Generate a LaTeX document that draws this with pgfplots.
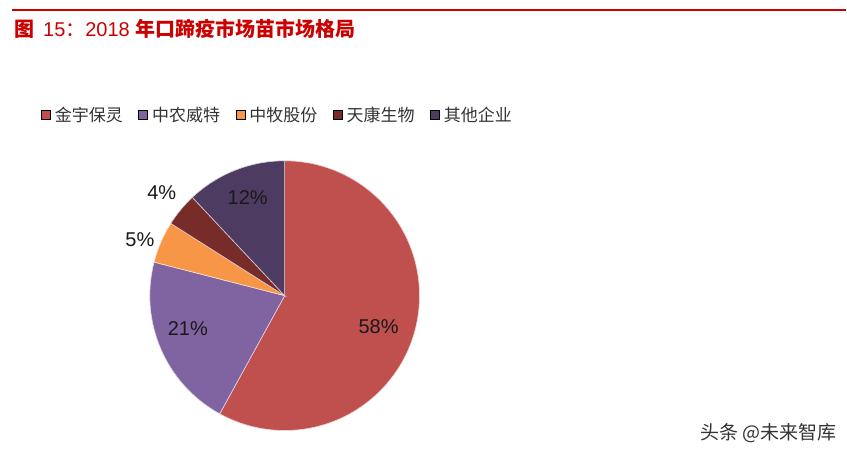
\documentclass[border=0pt]{standalone}
\usepackage{pgfplots}
\pgfplotsset{compat=1.18}
\usepackage{pgfplotstable}
\usepackage{fontspec}
\setmainfont{Liberation Sans}
\newfontfamily\cjk{Noto Sans CJK SC}

\definecolor{titlered}{HTML}{CC0000}
\definecolor{pie0}{HTML}{C0504D}
\definecolor{pie1}{HTML}{8064A2}
\definecolor{pie2}{HTML}{F79646}
\definecolor{pie3}{HTML}{772C2A}
\definecolor{pie4}{HTML}{4D3B62}

% market share, clockwise from 12 o'clock
\pgfplotstableread{
share
58
21
5
4
12
}\piedata

\begin{document}
\begin{tikzpicture}
\begin{axis}[
    width=847pt, height=458pt, scale only axis,
    xmin=0, xmax=847, ymin=0, ymax=458,
    hide axis, clip=false,
    legend columns=5,
    legend style={at={(axis cs:41,343)}, anchor=west, draw=none, fill=none,
        inner sep=0pt, outer sep=0pt,
        font=\cjk\fontsize{17}{20}\selectfont, text=black!80,
        nodes={inner sep=1pt},
        /tikz/every even column/.append style={column sep=14.5pt}},
    legend image code/.code={\fill[#1] (0pt,-4.5pt) rectangle (9pt,4.5pt);
        \path (12.5pt,0pt);},
]
\path (axis cs:0,0) rectangle (axis cs:847,458);

% title and rule
\draw[titlered, line width=2pt] (axis cs:12,448) -- (axis cs:847,448);
\node[anchor=west, inner sep=0pt, text=titlered, font=\fontsize{20}{24}\selectfont]
    at (axis cs:14,429) {{\cjk\bfseries 图}\hspace{9pt}15{\cjk ：}2018 {\cjk\bfseries 年口蹄疫市场苗市场格局}};

% pie wedges
\def\cum{0}
\pgfplotsforeachungrouped \i in {0,...,4}{
    \pgfplotstablegetelem{\i}{share}\of\piedata
    \pgfmathsetmacro\a{90-3.6*\cum}
    \pgfmathsetmacro\b{90-3.6*(\cum+\pgfplotsretval)}
    \pgfmathsetmacro\cum{\cum+\pgfplotsretval}
    \edef\cmd{\noexpand\fill[pie\i, draw=white!75!pie\i, line width=0.6pt]
        (axis cs:285,162) -- ++(\a:135pt) arc[start angle=\a, end angle=\b, radius=135pt] -- cycle;}
    \cmd
}

% data labels
\begin{scope}[font=\fontsize{20}{24}\selectfont, text=black!90]
\node at (axis cs:379,131) {58\%};
\node at (axis cs:188,129) {21\%};
\node at (axis cs:140,218) {5\%};
\node at (axis cs:162,265) {4\%};
\node at (axis cs:248,260) {12\%};
\end{scope}

\addlegendimage{fill=pie0}\addlegendentry{金宇保灵}
\addlegendimage{fill=pie1}\addlegendentry{中农威特}
\addlegendimage{fill=pie2}\addlegendentry{中牧股份}
\addlegendimage{fill=pie3}\addlegendentry{天康生物}
\addlegendimage{fill=pie4}\addlegendentry{其他企业}

% watermark
\node[anchor=east, inner sep=0pt, text=black!80, font=\cjk\fontsize{19}{22}\selectfont]
    at (axis cs:838,24) {头条 @未来智库};
\end{axis}
\end{tikzpicture}
\end{document}
